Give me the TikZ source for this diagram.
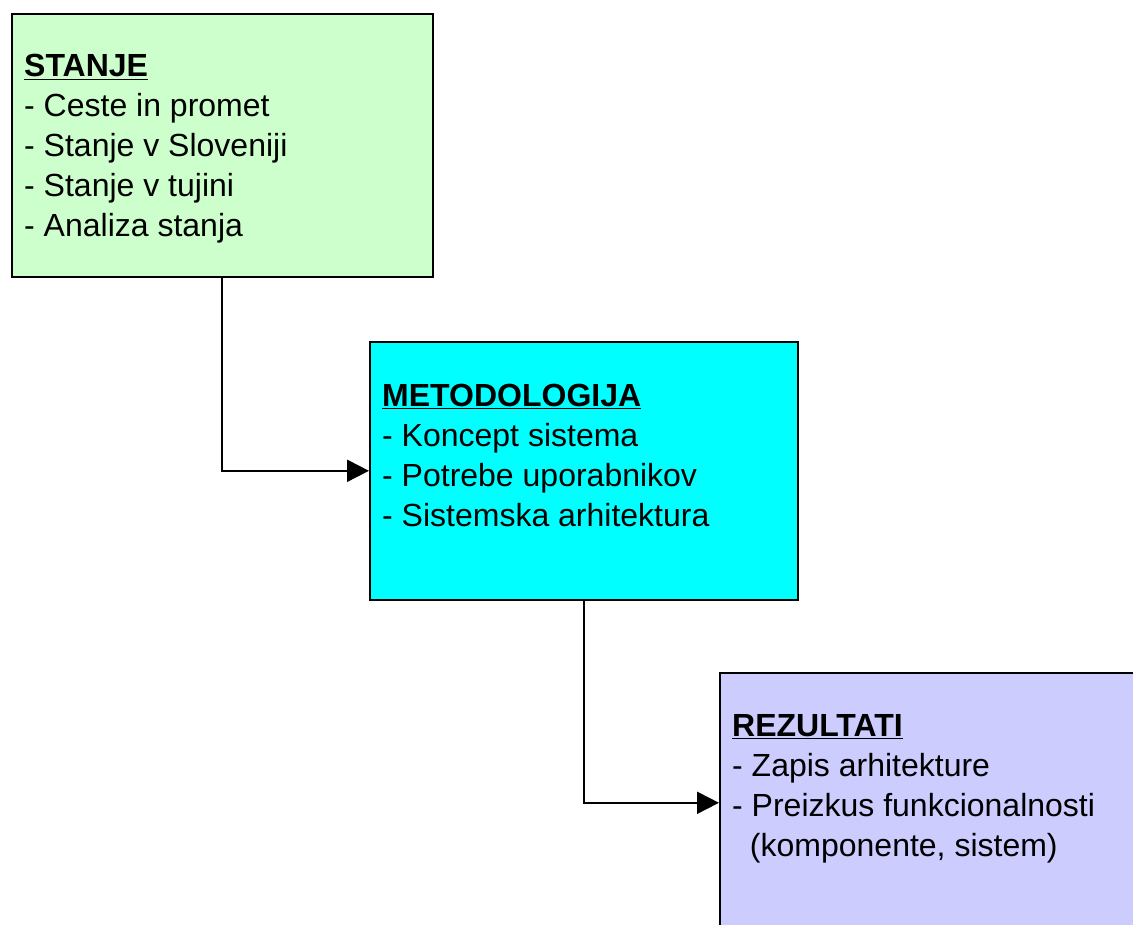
\documentclass[tikz,border=0pt]{standalone}
\usepackage{fontspec}
\setmainfont{Liberation Sans}
\usetikzlibrary{arrows.meta}
\definecolor{boxgreen}{HTML}{CCFFCC}
\definecolor{boxcyan}{HTML}{00FFFF}
\definecolor{boxlilac}{HTML}{CCCCFF}
\begin{document}
\begin{tikzpicture}[x=1pt,y=-1pt,
  panel/.style={draw=black, line width=1.6pt, inner sep=0pt, anchor=north west},
  body/.style={anchor=base west, inner sep=0pt, align=left,
    font=\fontsize{32}{40}\selectfont},
  link/.style={draw=black, line width=2pt,
    -{Triangle[length=22pt,width=22pt]}}]
  \useasboundingbox (0,0) rectangle (1133,925);
  \clip (0,0) rectangle (1133,925);

  % the three stage boxes
  \node[panel, fill=boxgreen, minimum width=421pt, minimum height=263pt] (stanje) at (11,13) {};
  \node[panel, fill=boxcyan, minimum width=428pt, minimum height=258pt] (metod) at (369,341) {};
  \node[panel, fill=boxlilac, minimum width=428pt, minimum height=260pt] (rez) at (719,672) {};

  % box contents (anchored at the baseline of the last line)
  \node[body] (t1) at (24,237) {\textbf{\underline{STANJE}}\\
    - Ceste in promet\\
    - Stanje v Sloveniji\\
    - Stanje v tujini\\
    - Analiza stanja};
  \node[body] (t2) at (382,526) {\textbf{\underline{METODOLOGIJA}}\\
    - Koncept sistema\\
    - Potrebe uporabnikov\\
    - Sistemska arhitektura};
  \node[body] (t3) at (732,856) {\textbf{\underline{REZULTATI}}\\
    - Zapis arhitekture\\
    - Preizkus funkcionalnosti\\
    \ \ (komponente, sistem)};

  % stage-to-stage connectors
  \draw[link] (stanje.south) |- (metod.west);
  \draw[link] (metod.south) |- (rez.west);
\end{tikzpicture}
\end{document}
